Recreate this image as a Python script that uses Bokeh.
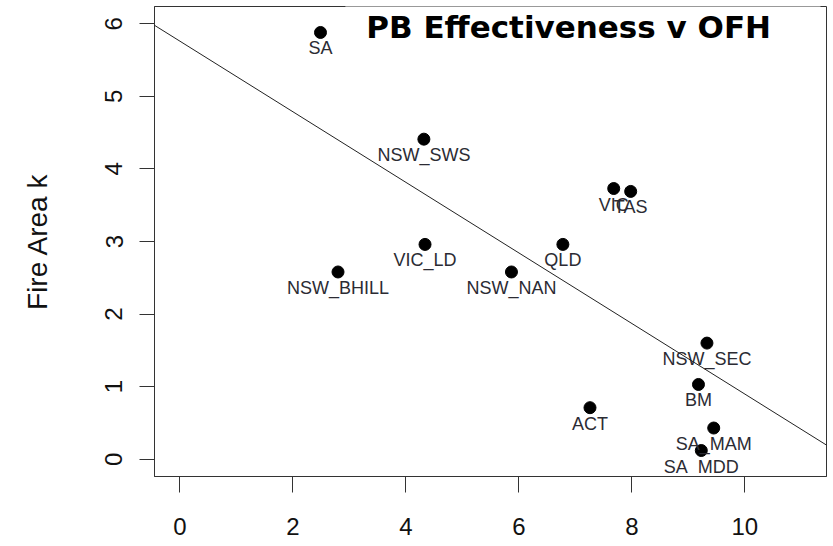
from bokeh.plotting import figure
from bokeh.models import FixedTicker, Range1d, Slope, BoxAnnotation, Label, ColumnDataSource
from bokeh.core.properties import value
from bokeh.embed import file_html
from bokeh.resources import INLINE

# ---- data ----
names = ["SA", "NSW_SWS", "VIC", "TAS", "QLD", "VIC_LD", "NSW_BHILL",
         "NSW_NAN", "NSW_SEC", "BM", "ACT", "SA_MAM", "SA_MDD"]
ofh = [2.49, 4.32, 7.68, 7.98, 6.78, 4.34, 2.80, 5.87, 9.33, 9.18, 7.26, 9.45, 9.23]
fire_area = [5.88, 4.41, 3.73, 3.69, 2.96, 2.96, 2.58, 2.58, 1.60, 1.03, 0.71, 0.43, 0.12]
fit_intercept = 5.761
fit_slope = -0.4863
x_ticks = [0, 2, 4, 6, 8, 10]
y_ticks = [0, 1, 2, 3, 4, 5, 6]
title_text = "PB Effectiveness v OFH"
y_title = "Fire Area k"

src = ColumnDataSource(dict(x=ofh, y=fire_area, name=names))

p = figure(width=827, height=546, output_backend="svg", toolbar_location=None,
           x_range=Range1d(-0.448, 11.446), y_range=Range1d(-0.238, 6.238),
           min_border_left=154, min_border_right=1, min_border_top=6, min_border_bottom=70)
p.xgrid.visible = False
p.ygrid.visible = False
p.background_fill_color = "white"
p.border_fill_color = "white"
p.outline_line_color = "#333333"
p.outline_line_width = 1

ax_col = "#333333"
for ax in (p.xaxis[0], p.yaxis[0]):
    ax.axis_line_color = ax_col
    ax.major_tick_line_color = ax_col
    ax.minor_tick_line_color = None
    ax.major_tick_in = 0
    ax.major_label_text_font = "Liberation Sans"
    ax.major_label_text_font_size = "24px"
    ax.major_label_text_color = "#111111"

p.xaxis.ticker = FixedTicker(ticks=x_ticks)
p.yaxis.ticker = FixedTicker(ticks=y_ticks)
p.xaxis.major_tick_out = 16
p.xaxis.major_label_standoff = 25
p.yaxis.major_tick_out = 15
p.yaxis.major_label_standoff = 17
p.yaxis.major_label_orientation = "parallel"
p.yaxis.axis_label = y_title
p.yaxis.axis_label_text_font = "Liberation Sans"
p.yaxis.axis_label_text_font_size = "28px"
p.yaxis.axis_label_text_font_style = "normal"
p.yaxis.axis_label_text_color = "#111111"
p.yaxis.axis_label_standoff = 50

# regression line
p.add_layout(Slope(gradient=fit_slope, y_intercept=fit_intercept,
                   line_color="#222222", line_width=1))

# points and labels
p.scatter("x", "y", source=src, size=12, color="black")
p.text("x", "y", text="name", source=src, text_align="center",
       text_baseline="alphabetic", y_offset=16,
       text_font=value("Liberation Sans"), text_font_size="18px",
       text_color="#2b2b33")

# title with white backing box
p.add_layout(BoxAnnotation(left=2.93, right=11.34, bottom=5.45, top=6.4,
                           fill_color="white", fill_alpha=1.0,
                           line_color=None, level="overlay"))
p.add_layout(Label(x=3.30, y=5.95, text=title_text,
                   text_font="DejaVu Sans", text_font_style="bold",
                   text_font_size="31px", text_color="black",
                   text_baseline="alphabetic", level="overlay"))

open("out.html", "w").write(file_html(p, INLINE))
